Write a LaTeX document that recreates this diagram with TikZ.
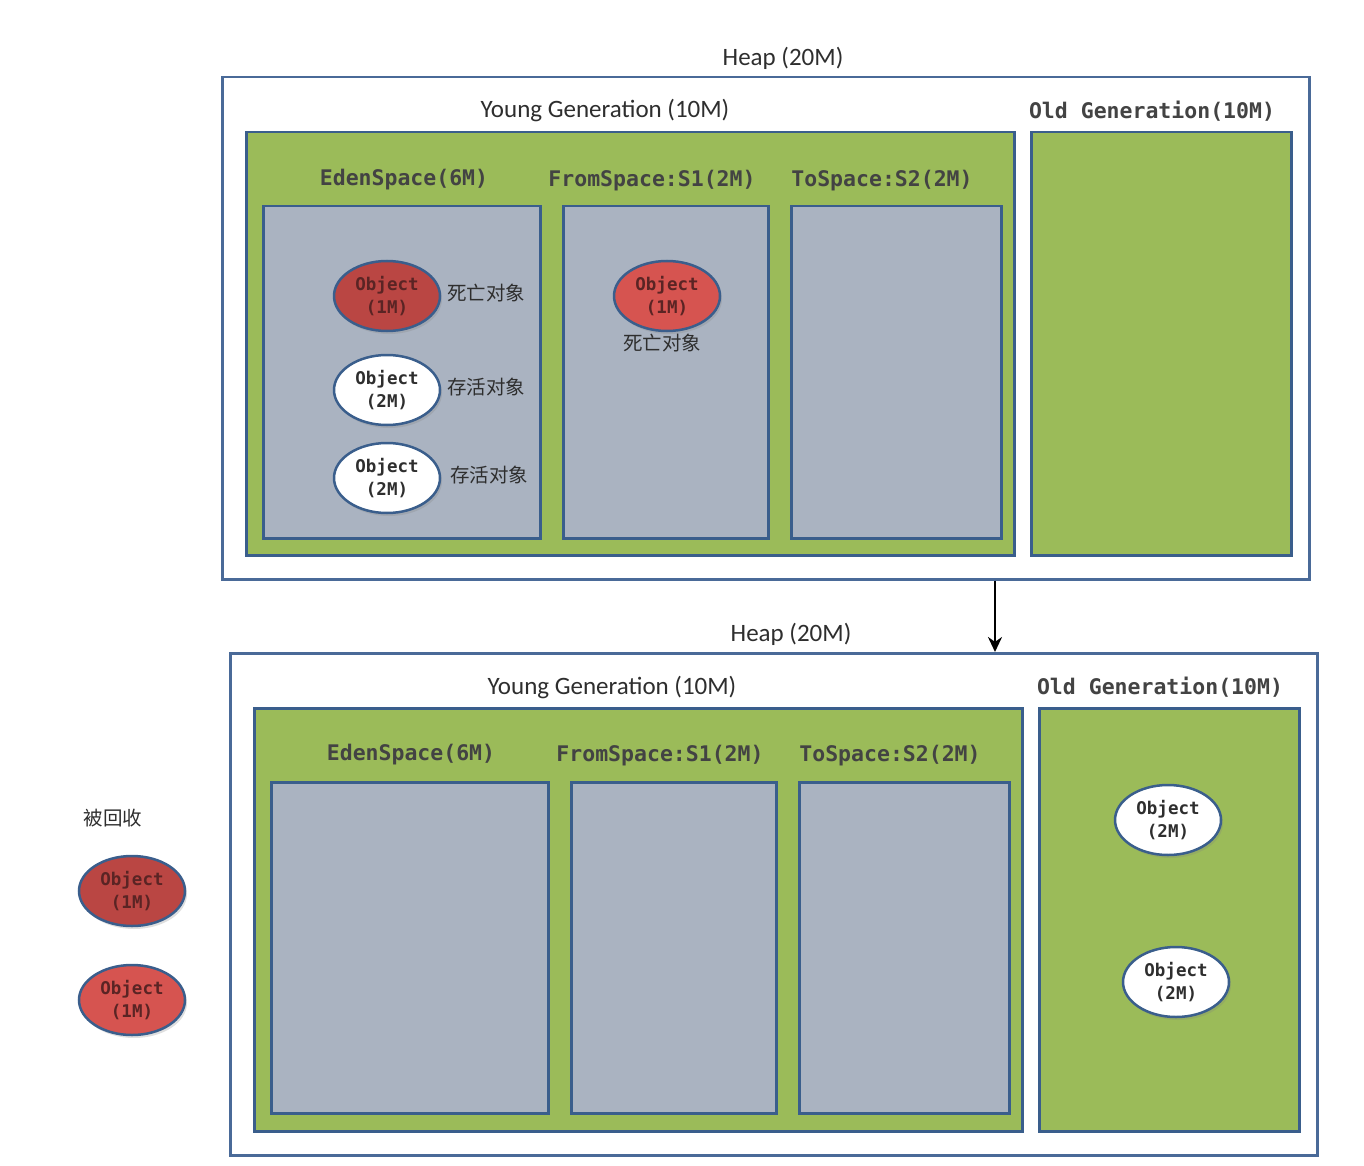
\documentclass[tikz,border=0pt]{standalone}
\usepackage{fontspec}
\setmainfont{Carlito}
\newfontfamily\monof{DejaVu Sans Mono}
\newfontfamily\cjk{Noto Sans CJK SC}
\usetikzlibrary{shapes.geometric,shadows,arrows.meta}
\definecolor{gr}{HTML}{9BBB59}
\definecolor{gy}{HTML}{AAB3C1}
\definecolor{bd}{HTML}{3A5E8C}
\definecolor{ob}{HTML}{4A6A98}
\definecolor{redA}{HTML}{BA4643}
\definecolor{redB}{HTML}{D65450}
\definecolor{tx}{HTML}{2E2E2E}
\definecolor{rtx}{HTML}{5A2424}
\tikzset{
  outerbox/.style={draw=ob, line width=2.5pt, fill=white, anchor=north west, inner sep=0},
  genbox/.style={draw=bd, line width=2.5pt, fill=gr, anchor=north west, inner sep=0},
  spacebox/.style={draw=bd, line width=2.5pt, fill=gy, anchor=north west, inner sep=0},
  heaplbl/.style={font=\fontsize{25}{28}\selectfont, text=tx},
  ylbl/.style={font=\fontsize{25}{28}\selectfont, text=tx},
  mlbl/.style={font=\monof\bfseries\fontsize{21.5}{24}\selectfont, text=tx!90},
  clbl/.style={font=\cjk\fontsize{19.5}{22}\selectfont, text=tx},
  obj/.style={ellipse, draw=bd, line width=2.5pt, minimum width=106pt, minimum height=70pt, inner sep=0,
    align=center, font=\monof\bfseries\fontsize{17.5}{23}\selectfont,
    drop shadow={opacity=0.25, shadow xshift=2pt, shadow yshift=-3pt}},
  wobj/.style={obj, fill=white, text=tx},
  robjA/.style={obj, fill=redA, text=rtx},
  robjB/.style={obj, fill=redB, text=rtx},
}
\begin{document}
\begin{tikzpicture}[x=1pt,y=-1pt]
\useasboundingbox (0,0) rectangle (1364,1166);
% ---------- top ----------
\node[heaplbl] (heap1) at (783,58) {Heap (20M)};
\node[outerbox, minimum width=1087pt, minimum height=502pt] (outer1) at (221,76) {};
\node[ylbl] (yg1) at (605,111) {Young Generation (10M)};
\node[mlbl] (og1) at (1152,111) {Old Generation(10M)};
\node[genbox, minimum width=768pt, minimum height=423pt] (young1) at (245,131) {};
\node[genbox, minimum width=260pt, minimum height=423pt] (old1) at (1030,131) {};
\node[mlbl] (edl1) at (404,180) {EdenSpace(6M)};
\node[mlbl] (frl1) at (652,181) {FromSpace:S1(2M)};
\node[mlbl] (tol1) at (882,181) {ToSpace:S2(2M)};
\node[spacebox, minimum width=277pt, minimum height=332pt] (eden1) at (262,205) {};
\node[spacebox, minimum width=205pt, minimum height=332pt] (from1) at (562,205) {};
\node[spacebox, minimum width=210pt, minimum height=332pt] (to1) at (790,205) {};
\node[robjA] (e1) at (387,296) {Object\\(1M)};
\node[wobj] (e2) at (387,390) {Object\\(2M)};
\node[wobj] (e3) at (387,478) {Object\\(2M)};
\node[clbl] (c1) at (486,293) {死亡对象};
\node[clbl] (c2) at (486,387) {存活对象};
\node[clbl] (c3) at (489,475) {存活对象};
\node[robjB] (f1) at (667,296) {Object\\(1M)};
\node[clbl] (c4) at (662,343) {死亡对象};
% ---------- bottom ----------
\node[heaplbl] (heap2) at (791,634) {Heap (20M)};
\node[outerbox, minimum width=1087pt, minimum height=502pt] (outer2) at (229,652) {};
\node[ylbl] (yg2) at (612,687) {Young Generation (10M)};
\node[mlbl] (og2) at (1160,687) {Old Generation(10M)};
\node[genbox, minimum width=768pt, minimum height=423pt] (young2) at (253,707) {};
\node[genbox, minimum width=260pt, minimum height=423pt] (old2) at (1038,707) {};
\node[mlbl] (edl2) at (411,755) {EdenSpace(6M)};
\node[mlbl] (frl2) at (660,756) {FromSpace:S1(2M)};
\node[mlbl] (tol2) at (890,756) {ToSpace:S2(2M)};
\node[spacebox, minimum width=277pt, minimum height=331pt] (eden2) at (270,781) {};
\node[spacebox, minimum width=205pt, minimum height=331pt] (from2) at (570,781) {};
\node[spacebox, minimum width=210pt, minimum height=331pt] (to2) at (798,781) {};
\node[wobj] (o1) at (1168,820) {Object\\(2M)};
\node[wobj] (o2) at (1176,982) {Object\\(2M)};
\node[clbl] (gc) at (113,818) {被回收};
\node[robjA] (g1) at (132,891) {Object\\(1M)};
\node[robjB] (g2) at (132,1000) {Object\\(1M)};
% ---------- arrow ----------
\coordinate (ax) at (995,0);
\draw[line width=2.5pt, -{Stealth[length=15pt,width=14pt]}] (outer1.south -| ax) -- (outer2.north -| ax);
\end{tikzpicture}
\end{document}
